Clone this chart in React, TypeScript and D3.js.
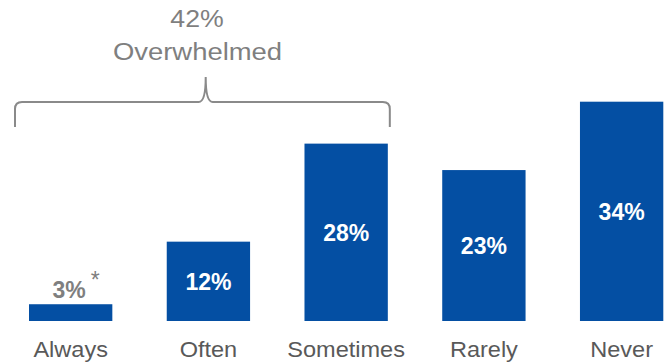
import React from "react";
import * as d3 from "d3";

const categories = ["Always", "Often", "Sometimes", "Rarely", "Never"];
const values = [2.6, 12.3, 27.5, 23.4, 34.0];
const labels = ["3%", "12%", "28%", "23%", "34%"];
const bracketLabel = ["42%", "Overwhelmed"];

const W = 670;
const H = 363;
const baseY = 321;
const barColor = "#044FA3";
const font = "'Liberation Sans', Arial, sans-serif";

export default function App() {
  const x = d3
    .scaleBand<string>()
    .domain(categories)
    .range([29, 663.3])
    .paddingInner(0.395)
    .paddingOuter(0);
  const y = d3.scaleLinear().domain([0, 34]).range([baseY, 101.7]);
  const bw = x.bandwidth();

  const bl = (x("Always") as number) - 14;
  const br = (x("Sometimes") as number) + bw + 2;
  const tip = 205.7;
  const by = 102;
  const bottom = 127;
  const r = 7;
  const brace = `M${bl},${bottom} L${bl},${by + r} Q${bl},${by} ${bl + r},${by} L${tip - 7},${by} Q${tip},${by} ${tip},${by - 25} Q${tip},${by} ${tip + 7},${by} L${br - r},${by} Q${br},${by} ${br},${by + r} L${br},${bottom}`;

  return (
    <svg
      width={W}
      height={H}
      style={{ position: "absolute", left: 0, top: 0, display: "block" }}
      fontFamily={font}
    >
      <rect width={W} height={H} fill="#ffffff" />
      <path d={brace} fill="none" stroke="#8a8a8a" strokeWidth={2} />
      <g transform="translate(197,27) scale(1.09,1)">
        <text x={0} y={0} textAnchor="middle" fontSize={24.5} fill="#7f7f7f">
          {bracketLabel[0]}
        </text>
      </g>
      <g transform="translate(197.5,60) scale(1.12,1)">
        <text x={0} y={0} textAnchor="middle" fontSize={24.5} fill="#7f7f7f">
          {bracketLabel[1]}
        </text>
      </g>
      {categories.map((c, i) => {
        const x0 = x(c) as number;
        const yTop = y(values[i]);
        const cx = x0 + bw / 2;
        const inside = baseY - yTop > 40;
        return (
          <g key={c}>
            <rect x={x0} y={yTop} width={bw} height={baseY - yTop} fill={barColor} />
            {inside ? (
              <text
                x={cx}
                y={(yTop + baseY) / 2}
                dy="0.36em"
                textAnchor="middle"
                fontSize={23}
                fontWeight="bold"
                fill="#ffffff"
              >
                {labels[i]}
              </text>
            ) : (
              <>
                <text
                  x={cx - 1.5}
                  y={yTop - 6}
                  textAnchor="middle"
                  fontSize={23}
                  fontWeight="bold"
                  fill="#7f7f7f"
                >
                  {labels[i]}
                </text>
                <text x={cx + 24.5} y={yTop - 16.5} textAnchor="middle" fontSize={23} fill="#7f7f7f">
                  *
                </text>
              </>
            )}
            <g transform={`translate(${cx},356.7) scale(1.07,1)`}>
              <text x={0} y={0} textAnchor="middle" fontSize={22} fill="#595959">
                {c}
              </text>
            </g>
          </g>
        );
      })}
    </svg>
  );
}
